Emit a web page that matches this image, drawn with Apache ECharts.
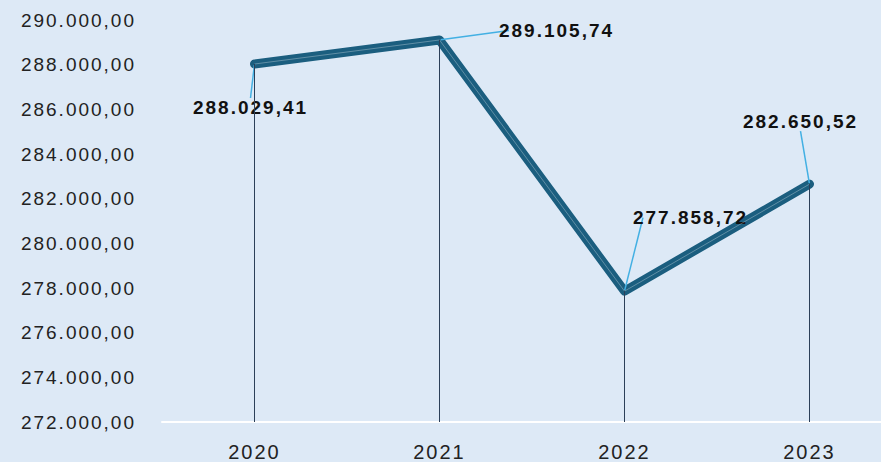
<!DOCTYPE html>
<html>
<head>
<meta charset="utf-8">
<script src="https://cdn.jsdelivr.net/npm/echarts@6/dist/echarts.min.js"></script>
<style>
  html, body { margin: 0; padding: 0; background: #dde9f6; }
  #chart { width: 881px; height: 462px; }
  #chart text { letter-spacing: 2px; }
</style>
</head>
<body>
<div id="chart"></div>
<script>
const years = ['2020', '2021', '2022', '2023']
const values = [288029.41, 289105.74, 277858.72, 282650.52]
const yTicks = [272000, 290000, 2000]

// label offsets from the point (dx, dy)
const labelShift = [[-4, 59], [117, 6], [66, -58], [-9, -47]]

const fmt = (v) => {
  const parts = v.toFixed(2).split('.')
  return parts[0].replace(/\B(?=(\d{3})+(?!\d))/g, '.') + ',' + parts[1]
}

const chart = echarts.init(document.getElementById('chart'), null, { renderer: 'svg' })
chart.setOption({
  backgroundColor: '#dde9f6',
  animation: false,
  grid: { left: 162, width: 740, top: 20, bottom: 40, outerBoundsMode: 'none', containLabel: false },
  xAxis: {
    type: 'category',
    data: years,
    axisLine: { lineStyle: { color: '#ffffff', width: 2 } },
    axisTick: { show: false },
    axisLabel: { color: '#222', fontSize: 20, fontFamily: 'Liberation Sans', margin: 20 }
  },
  yAxis: {
    type: 'value',
    min: yTicks[0],
    max: yTicks[1],
    interval: yTicks[2],
    splitLine: { show: false },
    axisLine: { show: false },
    axisLabel: {
      color: '#222', fontSize: 19, fontFamily: 'Liberation Sans', margin: 26,
      formatter: fmt
    }
  },
  series: [
    {
      type: 'line',
      data: values,
      symbol: 'circle',
      symbolSize: 2,
      itemStyle: { color: '#1b5e7f' },
      lineStyle: { color: '#1b5e7f', width: 9, cap: 'round', join: 'round' },
      label: {
        show: true,
        position: 'top',
        formatter: (p) => fmt(p.value),
        fontSize: 19,
        fontWeight: 'bold',
        color: '#111',
        fontFamily: 'Liberation Sans'
      },
      labelLine: { show: true, lineStyle: { color: '#43b0e3', width: 1.5 } },
      labelLayout: (p) => ({ dx: labelShift[p.dataIndex][0], dy: labelShift[p.dataIndex][1] }),
      markLine: {
        silent: true,
        symbol: 'none',
        label: { show: false },
        lineStyle: { color: '#2b3f58', width: 1, type: 'solid' },
        data: values.map((v, i) => [
          { coord: [i, v] },
          { coord: [i, yTicks[0]] }
        ])
      },
      z: 3
    },
    {
      type: 'line',
      data: values,
      symbol: 'none',
      silent: true,
      lineStyle: { color: 'rgba(255,255,255,0.3)', width: 1 },
      z: 4
    }
  ]
})
</script>
</body>
</html>
